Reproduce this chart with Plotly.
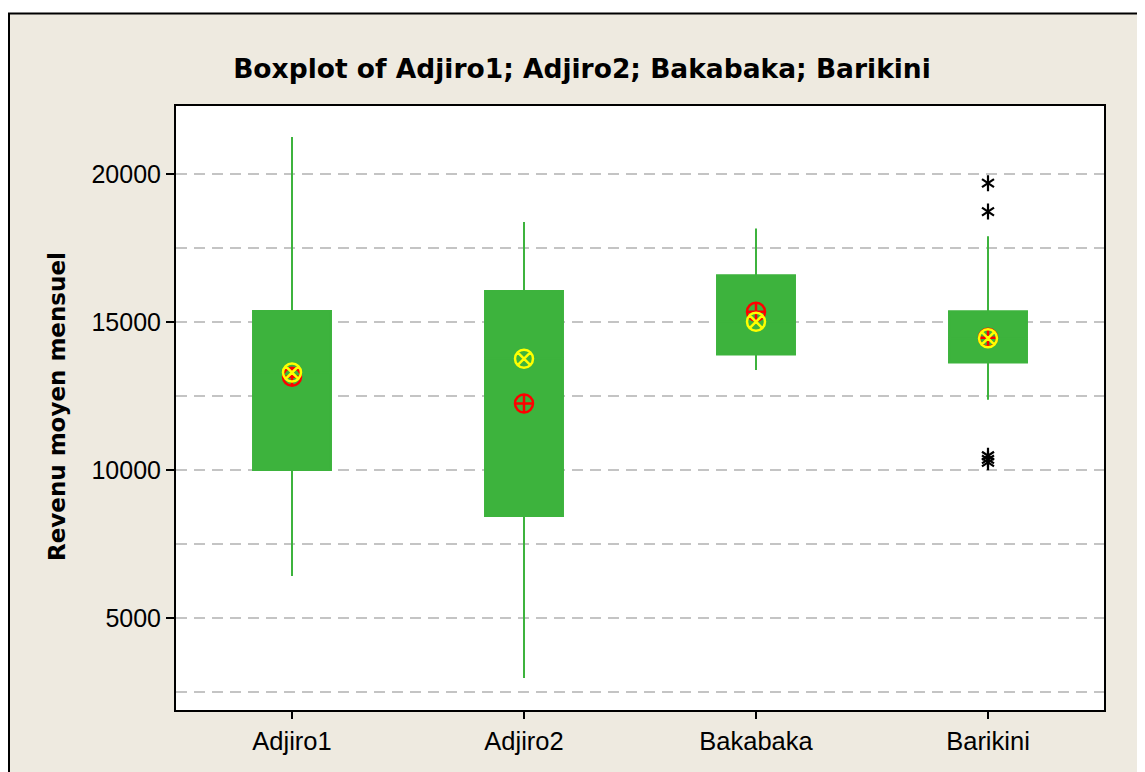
import plotly.graph_objects as go

categories = ["Adjiro1", "Adjiro2", "Bakabaka", "Barikini"]
q1 = [10000, 8450, 13900, 13630]
q3 = [15370, 16050, 16580, 15360]
medians = [13290, 13760, 15010, 14450]
means = [13150, 12250, 15350, 14470]
lower_whisker = [6420, 2970, 13380, 12370]
upper_whisker = [21250, 18380, 18160, 17900]

outlier_cat = ["Barikini", "Barikini", "Barikini", "Barikini", "Barikini"]
outlier_val = [19690, 18730, 10480, 10360, 10260]

y_ticks = [5000, 10000, 15000, 20000]

GREEN = "#3DB33D"
BEIGE = "#EEEAE0"

# page body has an 8px margin; figure is sized so the plot area lands in place
OFF = 8
FIG_W = 1145 - OFF
FIG_H = 772 - OFF
PLOT_L, PLOT_T, PLOT_R, PLOT_B = 176, 106, 1104, 710  # window pixels

fig = go.Figure()

fig.add_trace(go.Box(
    x=categories, q1=q1, median=medians, q3=q3,
    lowerfence=lower_whisker, upperfence=upper_whisker,
    fillcolor=GREEN, line=dict(color=GREEN, width=2),
    width=0.336, whiskerwidth=0, boxpoints=False, showlegend=False,
))

fig.add_trace(go.Scatter(
    x=categories, y=means, mode="markers", showlegend=False,
    marker=dict(symbol="circle-cross-open", size=18, color="#FF0000",
                line=dict(width=2.5, color="#FF0000")),
))
fig.add_trace(go.Scatter(
    x=categories, y=medians, mode="markers", showlegend=False,
    marker=dict(symbol="circle-x-open", size=18, color="#FFFF00",
                line=dict(width=2.5, color="#FFFF00")),
))
for sym in ["y-up-open", "y-down-open"]:
    fig.add_trace(go.Scatter(
        x=outlier_cat, y=outlier_val, mode="markers", showlegend=False,
        marker=dict(symbol=sym, size=10, color="#000000",
                    line=dict(width=2.2, color="#000000")),
    ))

def px_x(p):
    return (p - PLOT_L) / float(PLOT_R - PLOT_L)

def px_y(p):
    return (PLOT_B - p) / float(PLOT_B - PLOT_T)

shapes = [
    dict(type="rect", xref="paper", yref="paper", x0=px_x(-20), x1=px_x(1170),
         y0=px_y(13), y1=px_y(-20), fillcolor="white", line=dict(width=0), layer="above"),
    dict(type="line", xref="paper", yref="paper", x0=px_x(8), x1=px_x(1170),
         y0=px_y(13.5), y1=px_y(13.5), line=dict(color="black", width=2), layer="above"),
    dict(type="line", xref="paper", yref="paper", x0=px_x(9), x1=px_x(9),
         y0=px_y(13), y1=px_y(800), line=dict(color="black", width=2), layer="above"),
]

fig.update_layout(
    width=FIG_W, height=FIG_H,
    margin=dict(l=PLOT_L - OFF, r=1145 - PLOT_R, t=PLOT_T - OFF, b=772 - PLOT_B),
    paper_bgcolor=BEIGE, plot_bgcolor="white",
    title=dict(text="<b>Boxplot of Adjiro1; Adjiro2; Bakabaka; Barikini</b>",
               x=(582 - OFF) / FIG_W, xref="container", xanchor="center",
               y=1 - (69 - OFF) / FIG_H, yref="container", yanchor="middle",
               font=dict(family="DejaVu Sans", size=26.5, color="black")),
    shapes=shapes,
    annotations=[dict(text="<b>Revenu moyen mensuel</b>", textangle=-90,
                      xref="paper", yref="paper", x=px_x(57), y=px_y(406),
                      xanchor="center", yanchor="middle", showarrow=False,
                      font=dict(family="DejaVu Sans", size=23, color="black"))],
    font=dict(family="Liberation Sans", size=25, color="black"),
)

fig.update_xaxes(
    type="category", categoryorder="array", categoryarray=categories,
    range=[-0.5, 3.5], showgrid=False, zeroline=False,
    showline=True, mirror=True, linecolor="black", linewidth=2,
    ticks="outside", ticklen=7, tickwidth=2, tickcolor="black",
    tickfont=dict(family="Liberation Sans", size=25.5, color="black"),
)
fig.update_yaxes(
    range=[1892, 22297], tickvals=y_ticks, ticktext=[str(v) for v in y_ticks],
    showgrid=True, gridcolor="#C4C4C4", gridwidth=2, griddash="11px,7px",
    minor=dict(dtick=2500, tick0=0, showgrid=True, gridcolor="#C4C4C4",
               gridwidth=2, griddash="11px,7px", ticks=""),
    zeroline=False, showline=True, mirror=True, linecolor="black", linewidth=2,
    ticks="outside", ticklen=8, tickwidth=2, tickcolor="black",
    tickfont=dict(family="Liberation Sans", size=25, color="black"),
)

fig.write_html("out.html")
